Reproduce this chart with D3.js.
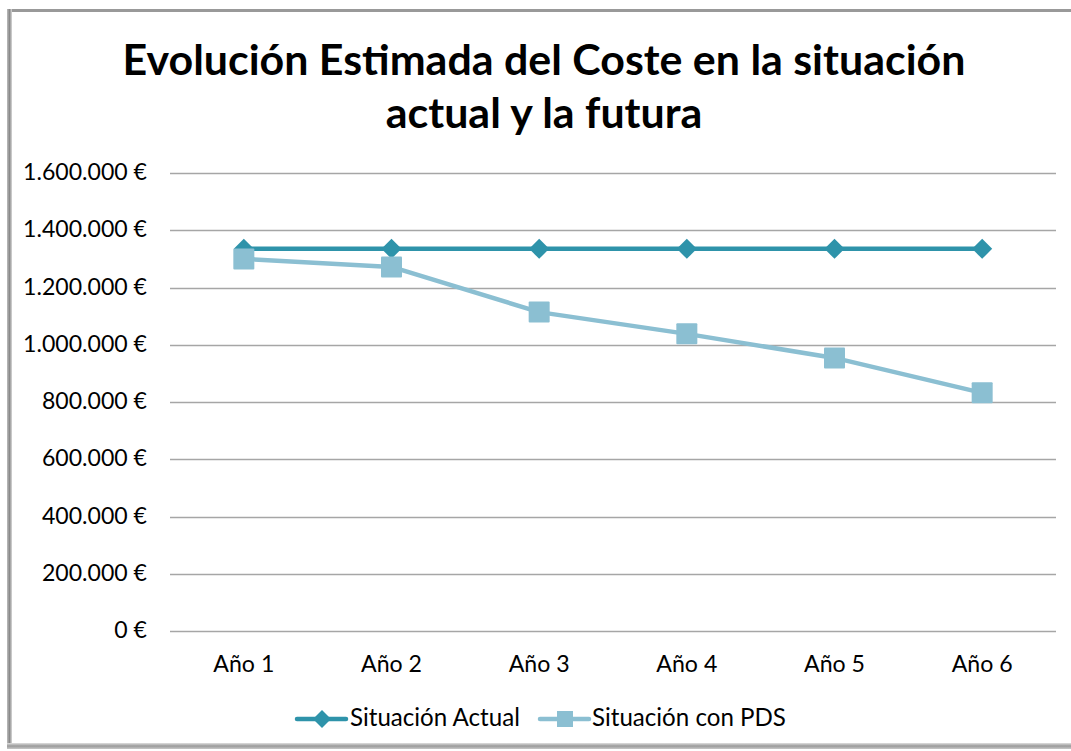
<!DOCTYPE html>
<html>
<head>
<meta charset="utf-8">
<script src="https://cdn.jsdelivr.net/npm/d3@7"></script>
<style>
  body { margin: 0; background: #fff; }
  text { font-family: Lato, "Open Sans", sans-serif; fill: #000; }
</style>
</head>
<body>
<script>
// datos
var years = ["Año 1", "Año 2", "Año 3", "Año 4", "Año 5", "Año 6"];
var actual = [1335000, 1335000, 1335000, 1335000, 1335000, 1335000];
var conPDS = [1300000, 1272000, 1114000, 1038000, 954000, 832000];
var yTicks = [0, 200000, 400000, 600000, 800000, 1000000, 1200000, 1400000, 1600000];
var seriesNames = ["Situación Actual", "Situación con PDS"];
var colors = ["#2E93AA", "#8BBFD2"];

var width = 1071, height = 751;

var svg = d3.select("body").append("svg")
    .attr("width", width)
    .attr("height", height);

// marco con sombra gris
var defs = svg.append("defs");
var gl = defs.append("linearGradient").attr("id", "gl").attr("x1", 0).attr("x2", 1);
gl.append("stop").attr("offset", 0).attr("stop-color", "#bdbdbd");
gl.append("stop").attr("offset", 0.5).attr("stop-color", "#8a8a8a");
gl.append("stop").attr("offset", 1).attr("stop-color", "#d8d8d8");
var gb = defs.append("linearGradient").attr("id", "gb").attr("x1", 0).attr("x2", 0).attr("y1", 0).attr("y2", 1);
gb.append("stop").attr("offset", 0).attr("stop-color", "#e0e0e0");
gb.append("stop").attr("offset", 0.5).attr("stop-color", "#9a9a9a");
gb.append("stop").attr("offset", 1).attr("stop-color", "#c8c8c8");

svg.append("rect").attr("x", 8).attr("y", 9).attr("width", width).attr("height", 3).attr("fill", "#999");
svg.append("rect").attr("x", 7).attr("y", 9).attr("width", 5).attr("height", 738).attr("fill", "url(#gl)");
svg.append("rect").attr("x", 7).attr("y", 743).attr("width", width).attr("height", 6).attr("fill", "url(#gb)");

var margin = {left: 170, right: 1056, top: 173, bottom: 631};

var x = d3.scaleBand()
    .domain(years)
    .range([margin.left, margin.right]);

var y = d3.scaleLinear()
    .domain([0, 1600000])
    .range([margin.bottom, margin.top]);

var fmt = function(v) {
    return d3.format(",")(v).replace(/,/g, ".") + " €";
};

// ajusta el tamaño de letra a un ancho medido
function fitSize(sel, base, target) {
    var w = sel.node().getComputedTextLength();
    return base * target / w;
}

// lineas de cuadricula
svg.append("g").selectAll("line")
    .data(yTicks)
    .enter().append("line")
    .attr("x1", margin.left).attr("x2", margin.right)
    .attr("y1", d => Math.round(y(d)) + 0.5).attr("y2", d => Math.round(y(d)) + 0.5)
    .attr("stroke", "#a6a6a6")
    .attr("stroke-width", 1.5);

var yLabels = svg.append("g").selectAll("text")
    .data(yTicks)
    .enter().append("text")
    .attr("x", 147)
    .attr("y", d => y(d) + 7)
    .attr("text-anchor", "end")
    .style("font-size", "19px")
    .text(fmt);
var fsY = fitSize(yLabels.filter(d => d == 1600000), 19, 124);
yLabels.style("font-size", fsY + "px");

var xLabels = svg.append("g").selectAll("text")
    .data(years)
    .enter().append("text")
    .attr("x", d => x(d) + x.bandwidth() / 2)
    .attr("y", 672)
    .attr("text-anchor", "middle")
    .style("font-size", "19px")
    .text(d => d);
var fsX = fitSize(xLabels.filter((d, i) => i == 0), 19, 61);
xLabels.style("font-size", fsX + "px");

// titulo
var title = svg.append("g");
var t1 = title.append("text")
    .attr("x", 544).attr("y", 75)
    .attr("text-anchor", "middle")
    .style("font-size", "42px").style("font-weight", "bold")
    .text("Evolución Estimada del Coste en la situación");
var t2 = title.append("text")
    .attr("x", 544).attr("y", 128)
    .attr("text-anchor", "middle")
    .style("font-size", "42px").style("font-weight", "bold")
    .text("actual y la futura");
var fs = fitSize(t1, 42, 843);
t1.style("font-size", fs + "px");
t2.style("font-size", fs + "px");

var line = d3.line()
    .x((d, i) => x(years[i]) + x.bandwidth() / 2)
    .y(d => y(d));

function diamondPath(r) {
    return "M0," + (-r) + "L" + r + ",0L0," + r + "L" + (-r) + ",0Z";
}

function drawSeries(values, i) {
    var g = svg.append("g");
    g.append("path")
        .datum(values)
        .attr("d", line)
        .attr("fill", "none")
        .attr("stroke", colors[i])
        .attr("stroke-width", 4.5)
        .attr("stroke-linejoin", "round");
    if (i == 0) {
        g.selectAll("path.m")
            .data(values)
            .enter().append("path")
            .attr("class", "m")
            .attr("d", diamondPath(10))
            .attr("transform", (d, j) => "translate(" + (x(years[j]) + x.bandwidth() / 2) + "," + y(d) + ")")
            .attr("fill", colors[i]);
    } else {
        g.selectAll("rect")
            .data(values)
            .enter().append("rect")
            .attr("x", (d, j) => x(years[j]) + x.bandwidth() / 2 - 10.5)
            .attr("y", d => y(d) - 10.5)
            .attr("width", 21).attr("height", 21)
            .attr("rx", 1)
            .attr("fill", colors[i]);
    }
}
drawSeries(actual, 0);
drawSeries(conPDS, 1);

// leyenda
var legX = [297, 540];
var legText = [];
seriesNames.forEach(function(name, i) {
    var lg = svg.append("g").attr("transform", "translate(" + legX[i] + ",719)");
    lg.append("line").attr("x1", 0).attr("x2", 49).attr("y1", 0).attr("y2", 0)
        .attr("stroke", colors[i]).attr("stroke-width", 4.5).attr("stroke-linecap", "round");
    if (i == 0) {
        lg.append("path").attr("d", diamondPath(9)).attr("transform", "translate(25,0)").attr("fill", colors[i]);
    } else {
        lg.append("rect").attr("x", 17).attr("y", -8).attr("width", 16).attr("height", 16).attr("fill", colors[i]);
    }
    legText.push(lg.append("text").attr("x", i == 0 ? 53 : 52).attr("y", 7).style("font-size", "19px").text(name));
});
var fsL = fitSize(legText[0], 19, 170);
legText.forEach(t => t.style("font-size", fsL + "px"));
</script>
</body>
</html>
